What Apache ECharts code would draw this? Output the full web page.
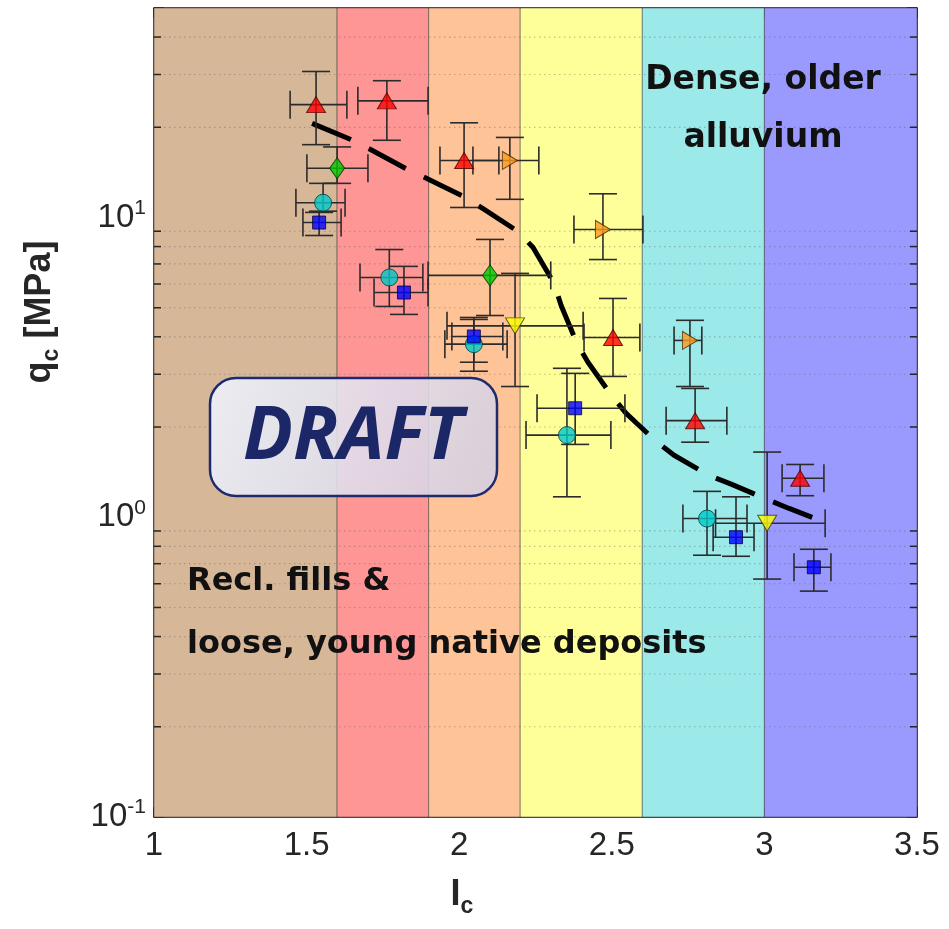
<!DOCTYPE html>
<html><head><meta charset="utf-8">
<script src="https://cdn.jsdelivr.net/npm/echarts@6/dist/echarts.min.js"></script>
<style>html,body{margin:0;padding:0;background:#fff}#c{width:949px;height:929px}</style>
</head><body><div id="c"></div>
<script>
// ---------------- data ----------------
const bandStart = [1.0, 1.6, 1.9, 2.2, 2.6, 3.0];
const bandEnd   = [1.6, 1.9, 2.2, 2.6, 3.0, 3.5];
const minorGrid = [0.2,0.3,0.4,0.5,0.6,0.7,0.8,0.9, 2,3,4,5,6,7,8,9, 20,30,40];

// red up-triangles
const redX   = [1.531, 1.763, 2.016, 2.504, 2.773, 3.117];
const redY   = [23.8, 24.5, 15.5, 3.98, 2.10, 1.35];
const redXLo = [1.446, 1.668, 1.937, 2.409, 2.678, 3.058];
const redXHi = [1.632, 1.898, 2.130, 2.592, 2.877, 3.195];
const redYLo = [17.5, 18.1, 10.8, 2.95, 1.78, 1.18];
const redYHi = [30.7, 28.6, 20.7, 5.37, 2.69, 1.50];

// orange right-triangles
const orgX   = [2.166, 2.471, 2.756];
const orgY   = [15.5, 9.12, 3.89];
const orgXLo = [2.045, 2.376, 2.704];
const orgXHi = [2.261, 2.602, 2.795];
const orgYLo = [11.5, 7.24, 2.73];
const orgYHi = [18.5, 12.0, 4.54];

// green diamonds
const grnX   = [1.600, 2.101];
const grnY   = [14.6, 6.41];
const grnXLo = [1.501, 1.898];
const grnXHi = [1.701, 2.300];
const grnYLo = [13.0, 4.71];
const grnYHi = [17.2, 8.45];

// cyan circles
const cynX   = [1.554, 1.771, 2.048, 2.353, 2.812];
const cynY   = [11.2, 6.31, 3.78, 1.88, 0.99];
const cynXLo = [1.465, 1.675, 1.953, 2.219, 2.733];
const cynXHi = [1.626, 1.881, 2.157, 2.497, 2.943];
const cynYLo = [10.5, 5.05, 3.07, 1.17, 0.747];
const cynYHi = [13.0, 7.82, 4.57, 3.14, 1.22];

// blue squares
const bluX   = [1.541, 1.819, 2.048, 2.380, 2.907, 3.162];
const bluY   = [9.62, 5.62, 4.01, 2.31, 0.858, 0.681];
const bluXLo = [1.488, 1.721, 1.976, 2.255, 2.832, 3.097];
const bluXHi = [1.613, 1.898, 2.143, 2.543, 2.966, 3.218];
const bluYLo = [8.71, 4.75, 3.29, 1.75, 0.741, 0.567];
const bluYHi = [10.4, 6.87, 4.64, 3.02, 1.17, 0.782];

// yellow down-triangles
const ylwX   = [2.183, 3.009];
const ylwY   = [4.35, 0.955];
const ylwXLo = [1.960, 2.840];
const ylwXHi = [2.406, 3.199];
const ylwYLo = [2.73, 0.622];
const ylwYHi = [6.51, 1.65];

// dashed trend
const trendX = [1.518, 1.645, 1.708, 1.829, 1.894, 2.019, 2.078, 2.193, 2.242, 2.311, 2.334, 2.386, 2.422, 2.501, 2.547, 2.648, 2.704, 2.818, 2.891, 3.015, 3.081, 3.199];
const trendY = [20.6, 18.2, 16.9, 14.5, 13.5, 11.7, 10.7, 8.98, 7.94, 6.03, 5.09, 3.80, 3.29, 2.53, 2.22, 1.78, 1.61, 1.38, 1.29, 1.14, 1.07, 0.962];

// ---------------- styles ----------------
const bandColors = ['#D6B899', '#FF9696', '#FFC398', '#FFFF99', '#9BE9E9', '#9A9AFE'];
const axisColor = '#262626';
const tickFont = '"Liberation Sans Narrow", "Liberation Sans", Arial, sans-serif';
const labFont = '"Liberation Sans", Arial, sans-serif';
const textFont = '"DejaVu Sans", sans-serif';

const chart = echarts.init(document.getElementById('c'), null, {renderer: 'canvas'});

function rows(X, Y, XL, XH, YL, YH) {
  return X.map((x, i) => [x, Y[i], XL[i], XH[i], YL[i], YH[i]]);
}
function errSeries(name, X, Y, XL, XH, YL, YH) {
  return {
    type: 'custom', name: name + ' err', z: 4,
    data: rows(X, Y, XL, XH, YL, YH),
    encode: {x: [0, 2, 3], y: [1, 4, 5]},
    renderItem: function (params, api) {
      const x = api.value(0), y = api.value(1);
      const pL = api.coord([api.value(2), y]), pR = api.coord([api.value(3), y]);
      const pB = api.coord([x, api.value(4)]), pT = api.coord([x, api.value(5)]);
      const h = 14;
      const st = () => ({stroke: '#2b2b2b', lineWidth: 1.6});
      const ln = (x1, y1, x2, y2) => ({type: 'line', shape: {x1, y1, x2, y2}, style: st()});
      return {type: 'group', children: [
        ln(pB[0], pB[1], pT[0], pT[1]),
        ln(pT[0] - h, pT[1], pT[0] + h, pT[1]),
        ln(pB[0] - h, pB[1], pB[0] + h, pB[1]),
        ln(pL[0], pL[1], pR[0], pR[1]),
        ln(pL[0], pL[1] - h, pL[0], pL[1] + h),
        ln(pR[0], pR[1] - h, pR[0], pR[1] + h)
      ]};
    }
  };
}
function pts(X, Y) { return X.map((x, i) => [x, Y[i]]); }

const series = [
  { // colour bands
    type: 'custom', name: 'bands', z: 1, silent: true,
    data: bandStart.map((s, i) => [s, bandEnd[i], 1]),
    encode: {x: [0, 1], y: 2},
    renderItem: function (params, api) {
      const p0 = api.coord([api.value(0), 50]);
      const p1 = api.coord([api.value(1), 0.1]);
      return {type: 'rect', shape: {x: p0[0], y: p0[1], width: p1[0] - p0[0], height: p1[1] - p0[1]},
        style: {fill: bandColors[params.dataIndex], stroke: 'rgba(40,40,40,0.45)', lineWidth: 1}};
    }
  },
  { // minor grid + minor ticks
    type: 'custom', name: 'minor', z: 2, silent: true,
    data: minorGrid.map(v => [1, v]),
    encode: {x: 0, y: 1},
    renderItem: function (params, api) {
      const v = api.value(1);
      const a = api.coord([1, v]), b = api.coord([3.5, v]);
      return {type: 'group', children: [
        {type: 'line', shape: {x1: a[0], y1: a[1], x2: b[0], y2: b[1]},
          style: {stroke: 'rgba(90,90,90,0.38)', lineWidth: 1.2, lineDash: [1.5, 3.5]}},
        {type: 'line', shape: {x1: a[0], y1: a[1], x2: a[0] + 7, y2: a[1]}, style: {stroke: axisColor, lineWidth: 1.5}},
        {type: 'line', shape: {x1: b[0] - 7, y1: b[1], x2: b[0], y2: b[1]}, style: {stroke: axisColor, lineWidth: 1.5}}
      ]};
    }
  },
  {
    type: 'line', name: 'trend', z: 3, data: pts(trendX, trendY), symbol: 'none', silent: true,
    lineStyle: {color: '#000', width: 5, type: [42, 20], cap: 'butt'}
  },
  errSeries('red', redX, redY, redXLo, redXHi, redYLo, redYHi),
  errSeries('orange', orgX, orgY, orgXLo, orgXHi, orgYLo, orgYHi),
  errSeries('green', grnX, grnY, grnXLo, grnXHi, grnYLo, grnYHi),
  errSeries('cyan', cynX, cynY, cynXLo, cynXHi, cynYLo, cynYHi),
  errSeries('blue', bluX, bluY, bluXLo, bluXHi, bluYLo, bluYHi),
  errSeries('yellow', ylwX, ylwY, ylwXLo, ylwXHi, ylwYLo, ylwYHi),
  {type: 'scatter', name: 'red', z: 5, data: pts(redX, redY), symbol: 'triangle', symbolSize: [19, 16],
    itemStyle: {color: '#FF0000', borderColor: '#4a0000', borderWidth: 1}},
  {type: 'scatter', name: 'orange', z: 5, data: pts(orgX, orgY), symbol: 'triangle', symbolRotate: -90, symbolSize: [18, 15],
    itemStyle: {color: '#FF9A1E', borderColor: '#4a2a00', borderWidth: 1}},
  {type: 'scatter', name: 'green', z: 5, data: pts(grnX, grnY), symbol: 'diamond', symbolSize: [15, 21],
    itemStyle: {color: '#00C800', borderColor: '#003000', borderWidth: 1}},
  {type: 'scatter', name: 'cyan', z: 5, data: pts(cynX, cynY), symbol: 'circle', symbolSize: 17,
    itemStyle: {color: '#00C8C8', borderColor: '#003a3a', borderWidth: 1}},
  {type: 'scatter', name: 'blue', z: 5, data: pts(bluX, bluY), symbol: 'rect', symbolSize: 13,
    itemStyle: {color: '#0000FF', borderColor: '#00003a', borderWidth: 1}},
  {type: 'scatter', name: 'yellow', z: 5, data: pts(ylwX, ylwY), symbol: 'triangle', symbolRotate: 180, symbolSize: [19, 16],
    itemStyle: {color: '#FFFF00', borderColor: '#3a3a00', borderWidth: 1}}
];

const axLine = {show: true, onZero: false, lineStyle: {color: axisColor, width: 1.5}};
const axTick = {show: true, inside: true, length: 10, lineStyle: {color: axisColor, width: 1.5}};

const option = {
  animation: false,
  backgroundColor: '#ffffff',
  grid: {left: 154, top: 8, right: 32, bottom: 112, containLabel: false},
  xAxis: [
    {type: 'value', min: 1, max: 3.5, interval: 0.5, position: 'bottom',
      axisLine: axLine, axisTick: axTick,
      axisLabel: {fontSize: 33, color: '#262626', margin: 12, fontFamily: tickFont, formatter: v => String(v)},
      splitLine: {show: true, lineStyle: {color: 'rgba(0,0,0,0.15)', width: 1.2}}},
    {type: 'value', min: 1, max: 3.5, interval: 0.5, position: 'top',
      axisLine: axLine, axisTick: axTick, axisLabel: {show: false}, splitLine: {show: false}}
  ],
  yAxis: [
    {type: 'log', logBase: 10, min: 0.1, max: 50, position: 'left',
      axisLine: axLine, axisTick: axTick,
      axisLabel: {margin: 8, color: '#262626', fontFamily: tickFont,
        formatter: function (v) {
          const l = Math.log10(v), e = Math.round(l);
          if (Math.abs(l - e) > 1e-6) return '';
          return '{b|10}{s|' + e + '}';
        },
        rich: {b: {fontSize: 33, lineHeight: 40, fontFamily: tickFont, color: '#262626'},
               s: {fontSize: 21, verticalAlign: 'top', fontFamily: tickFont, color: '#262626'}}},
      splitLine: {show: true, lineStyle: {color: 'rgba(0,0,0,0.15)', width: 1.2}}},
    {type: 'log', logBase: 10, min: 0.1, max: 50, position: 'right',
      axisLine: axLine, axisTick: axTick, axisLabel: {show: false}, splitLine: {show: false}}
  ],
  series: series,
  graphic: [
    {type: 'text', z: 20, x: 763, y: 80, style: {text: 'Dense, older', font: 'bold 33px ' + textFont, fill: '#111',
      textAlign: 'center', align: 'center', textVerticalAlign: 'middle', verticalAlign: 'middle'}},
    {type: 'text', z: 20, x: 763, y: 138, style: {text: 'alluvium', font: 'bold 33px ' + textFont, fill: '#111',
      textAlign: 'center', align: 'center', textVerticalAlign: 'middle', verticalAlign: 'middle'}},
    {type: 'text', z: 20, x: 187, y: 582, style: {text: 'Recl. fills &', font: 'bold 32px ' + textFont, fill: '#111',
      textAlign: 'left', align: 'left', textVerticalAlign: 'middle', verticalAlign: 'middle'}},
    {type: 'text', z: 20, x: 187, y: 645, style: {text: 'loose, young native deposits', font: 'bold 32px ' + textFont, fill: '#111',
      textAlign: 'left', align: 'left', textVerticalAlign: 'middle', verticalAlign: 'middle'}},
    {type: 'rect', z: 30, shape: {x: 210, y: 378, width: 287, height: 118, r: 26},
      style: {fill: {type: 'linear', x: 0, y: 0, x2: 1, y2: 1, colorStops: [
          {offset: 0, color: 'rgba(238,242,251,0.9)'}, {offset: 1, color: 'rgba(212,206,224,0.88)'}]},
        stroke: '#1c2a6e', lineWidth: 2.5}},
    {type: 'text', z: 31, x: 353, y: 438, style: {text: 'DRAFT', font: 'italic bold 74px "Open Sans", sans-serif', fill: '#1b2766',
      textAlign: 'center', align: 'center', textVerticalAlign: 'middle', verticalAlign: 'middle'}},
    {type: 'text', z: 20, x: 462, y: 895, style: {
      text: '{a|I}{b|c}', textAlign: 'center', align: 'center', textVerticalAlign: 'middle', verticalAlign: 'middle',
      rich: {a: {fontSize: 36, fontWeight: 'bold', fontFamily: labFont, lineHeight: 46, fill: '#262626', color: '#262626'},
             b: {fontSize: 23, fontWeight: 'bold', fontFamily: labFont, verticalAlign: 'bottom', fill: '#262626', color: '#262626'}}}},
    {type: 'text', z: 20, x: 40, y: 312, rotation: Math.PI / 2, style: {
      text: '{a|q}{b|c}{a| [MPa]}', textAlign: 'center', align: 'center', textVerticalAlign: 'middle', verticalAlign: 'middle',
      rich: {a: {fontSize: 36, fontWeight: 'bold', fontFamily: labFont, lineHeight: 46, fill: '#262626', color: '#262626'},
             b: {fontSize: 23, fontWeight: 'bold', fontFamily: labFont, verticalAlign: 'bottom', fill: '#262626', color: '#262626'}}}}
  ]
};
chart.setOption(option);
</script>
</body></html>
